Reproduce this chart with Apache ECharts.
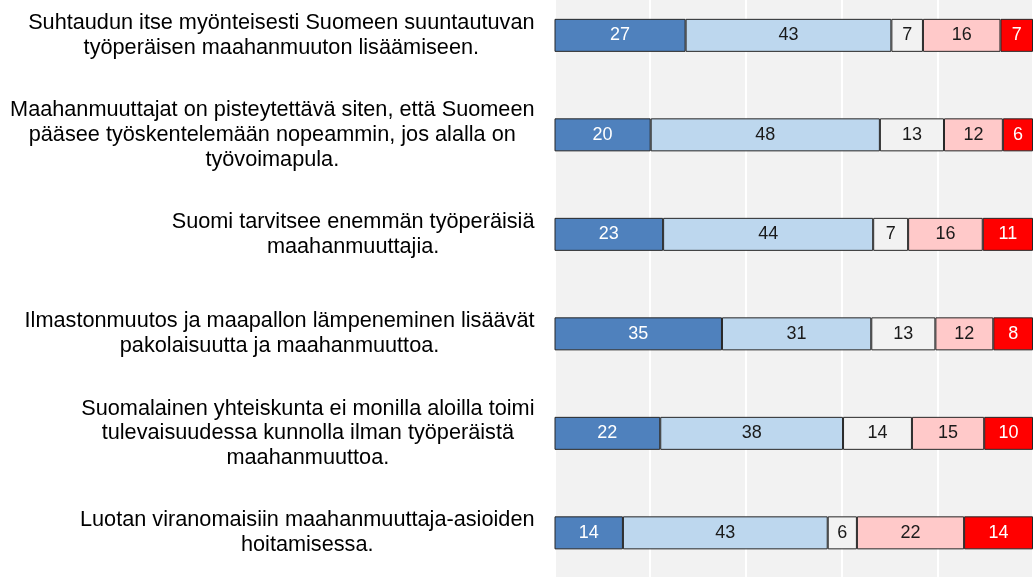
<!DOCTYPE html>
<html>
<head>
<meta charset="utf-8">
<script src="https://cdn.jsdelivr.net/npm/echarts@6/dist/echarts.min.js"></script>
<style>html,body{margin:0;padding:0;background:#fff;}#c{width:1035px;height:577px;}</style>
</head>
<body>
<div id="c"></div>
<script>
var categories = [
  "Suhtaudun itse myönteisesti Suomeen suuntautuvan\ntyöperäisen maahanmuuton lisäämiseen.",
  "Maahanmuuttajat on pisteytettävä siten, että Suomeen\npääsee työskentelemään nopeammin, jos alalla on\ntyövoimapula.",
  "Suomi tarvitsee enemmän työperäisiä\nmaahanmuuttajia.",
  "Ilmastonmuutos ja maapallon lämpeneminen lisäävät\npakolaisuutta ja maahanmuuttoa.",
  "Suomalainen yhteiskunta ei monilla aloilla toimi\ntulevaisuudessa kunnolla ilman työperäistä\nmaahanmuuttoa.",
  "Luotan viranomaisiin maahanmuuttaja-asioiden\nhoitamisessa."
];
var s1 = [27.4, 20.1, 22.7, 35.0, 22.1, 14.3];
var s2 = [43.0, 47.9, 43.9, 31.2, 38.2, 42.8];
var s3 = [6.6, 13.4, 7.3, 13.4, 14.4, 6.1];
var s4 = [16.2, 12.3, 15.6, 12.1, 15.1, 22.4];
var s5 = [6.8, 6.3, 10.5, 8.3, 10.2, 14.4];
var xTicks = [0, 20, 40, 60, 80, 100];

var colors = ['#4f81bd', '#bdd7ee', '#f2f2f2', '#ffc9c9', '#ff0000'];
var labelColors = ['#ffffff', '#1a1a1a', '#1a1a1a', '#1a1a1a', '#ffffff'];
var seriesData = [s1, s2, s3, s4, s5];

var chart = echarts.init(document.getElementById('c'));
var FONT = '"Liberation Sans", Arial, sans-serif';

var series = seriesData.map(function (d, i) {
  return {
    type: 'bar',
    stack: 'total',
    data: d,
    barWidth: 33,
    itemStyle: { color: colors[i], borderColor: '#262626', borderWidth: 1 },
    label: {
      show: true,
      position: 'inside',
      formatter: function (p) { return Math.round(p.value); },
      color: labelColors[i],
      fontSize: 18,
      fontFamily: FONT
    },
    emphasis: { disabled: true },
    animation: false
  };
});

chart.setOption({
  animation: false,
  grid: {
    left: 554.5,
    width: 478.5,
    top: -14.4,
    height: 597,
    outerBoundsMode: 'none',
    containLabel: false,
    show: true,
    backgroundColor: '#f2f2f2',
    borderWidth: 0
  },
  xAxis: {
    type: 'value',
    min: xTicks[0],
    max: xTicks[xTicks.length - 1],
    interval: xTicks[1] - xTicks[0],
    axisLine: { show: false },
    axisTick: { show: false },
    axisLabel: { show: false },
    splitLine: { show: true, lineStyle: { color: '#ffffff', width: 2 } }
  },
  yAxis: {
    type: 'category',
    inverse: true,
    data: categories,
    axisLine: { show: false },
    axisTick: { show: false },
    axisLabel: {
      margin: 20,
      align: 'right',
      verticalAlign: 'middle',
      formatter: function (v) {
        return v.split('\n').map(function (l) { return '{a|' + l + '}'; }).join('\n');
      },
      rich: {
        a: { align: 'center', fontSize: 21.7, lineHeight: 24.7, color: '#000000', fontFamily: FONT }
      }
    }
  },
  series: series
});
</script>
</body>
</html>
